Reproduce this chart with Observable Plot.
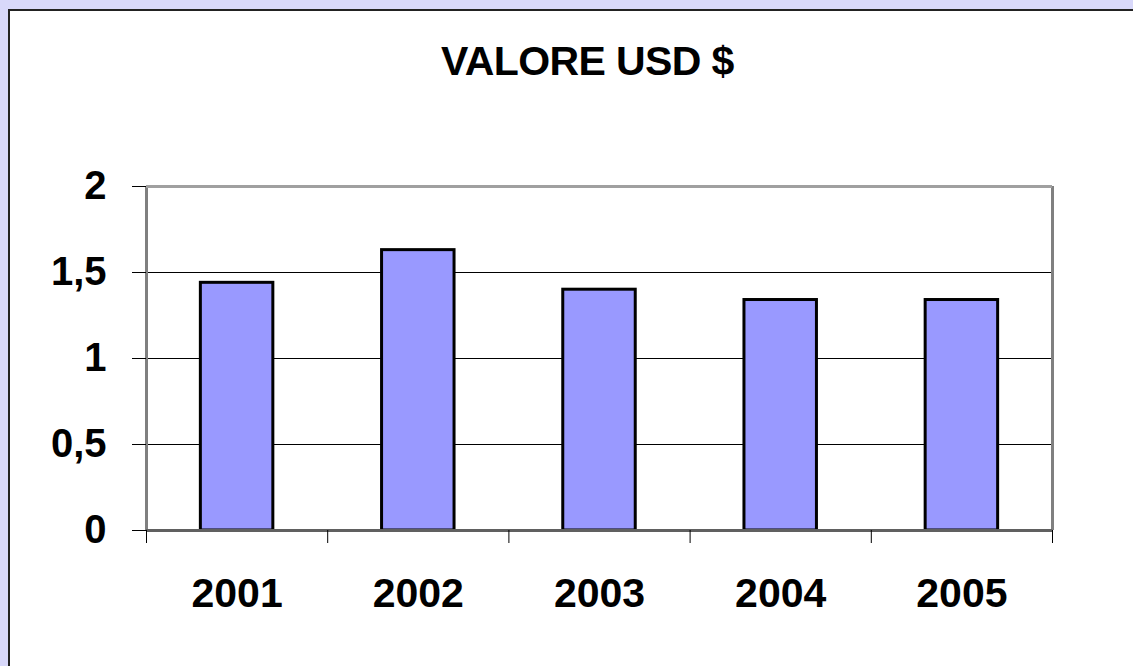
<!DOCTYPE html>
<html>
<head>
<meta charset="utf-8">
<script src="https://cdn.jsdelivr.net/npm/d3@7"></script>
<script src="https://cdn.jsdelivr.net/npm/@observablehq/plot@0.6"></script>
<style>
  html, body { margin: 0; padding: 0; }
  body { width: 1133px; height: 666px; background: #d8d8fa; position: relative; overflow: hidden; font-family: "Liberation Sans", Arial, sans-serif; }
  #frame { position: absolute; left: 8px; top: 9px; width: 1125px; height: 657px; background: #fff; border-left: 2px solid #222; border-top: 2px solid #222; box-sizing: border-box; }
  #title { position: absolute; left: 441px; top: 38px; white-space: nowrap; font-weight: bold; font-size: 41px; letter-spacing: -0.6px; color: #000; }
  #chart { position: absolute; left: 0; top: 0; }
</style>
</head>
<body>
<div id="frame"></div>
<div id="title">VALORE USD $</div>
<div id="chart"></div>
<script>
const years = ["2001", "2002", "2003", "2004", "2005"];
const values = [1.44, 1.63, 1.40, 1.34, 1.34];
const yTicks = [0, 0.5, 1, 1.5, 2];
const gridValues = [0.5, 1, 1.5];

const data = years.map((y, i) => ({year: y, i, value: values[i]}));
const bounds = d3.range(years.length + 1);
const fmt = d => String(d).replace(".", ",");

const chart = Plot.plot({
  width: 1133,
  height: 666,
  marginLeft: 146,
  marginRight: 81,
  marginTop: 186,
  marginBottom: 136,
  style: {background: "transparent", fontFamily: "'Liberation Sans', Arial, sans-serif", overflow: "visible"},
  x: {type: "linear", domain: [0, years.length], axis: null, label: null},
  y: {domain: [0, 2], axis: null, label: null},
  marks: [
    Plot.ruleY(gridValues, {stroke: "#000", strokeWidth: 1}),
    Plot.rectY(data, {x1: d => d.i + 0.3, x2: d => d.i + 0.7, y1: 0, y2: "value", fill: "#9999ff", stroke: "#000", strokeWidth: 3}),
    Plot.ruleX([0, years.length], {stroke: "#808080", strokeWidth: 3}),
    Plot.ruleY([2], {stroke: "#a0a0a0", strokeWidth: 3}),
    Plot.ruleY([0], {stroke: "#606060", strokeWidth: 3}),
    Plot.axisY({ticks: yTicks, label: null, tickSize: 14, tickPadding: 26, tickFormat: fmt, fontSize: 40, fontWeight: "bold", stroke: "#000", color: "#000"}),
    Plot.axisX({ticks: bounds, label: null, tickSize: 13, tickFormat: () => "", stroke: "#000"}),
    Plot.axisX({ticks: data.map(d => d.i + 0.5), label: null, tickSize: 0, tickPadding: 47, tickFormat: v => years[Math.floor(v)], fontSize: 41, fontWeight: "bold", color: "#000"})
  ]
});
document.getElementById("chart").appendChild(chart);
</script>
</body>
</html>
